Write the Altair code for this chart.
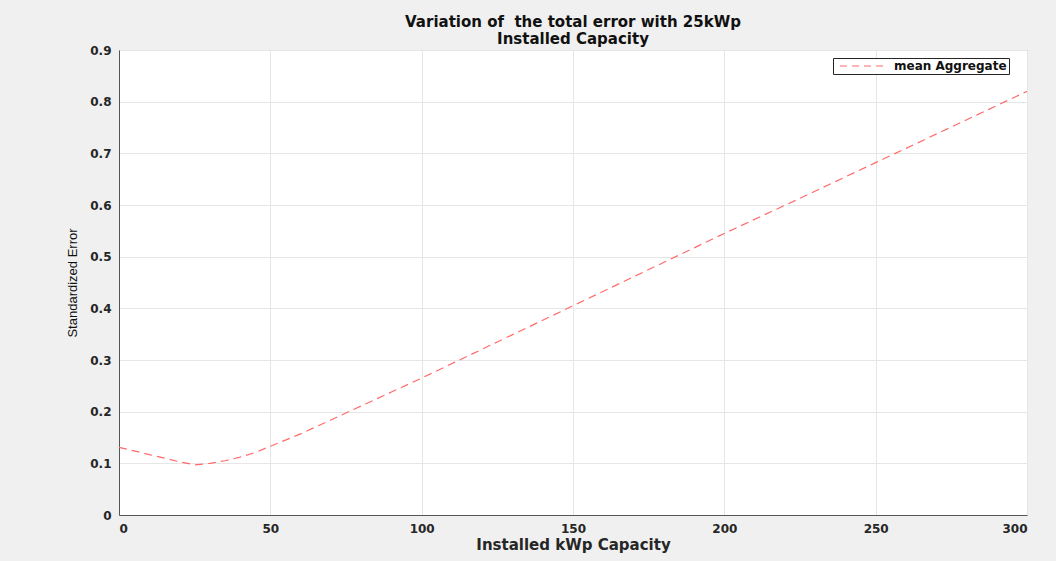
import altair as alt
import pandas as pd

capacity = [0, 5, 10, 15, 20, 25, 30, 35, 40, 45, 50, 60, 70, 80, 90, 100,
            125, 150, 175, 200, 225, 250, 275, 300]
error = [0.131, 0.124, 0.117, 0.110, 0.103, 0.097, 0.100, 0.105, 0.112, 0.121,
         0.133, 0.157, 0.184, 0.211, 0.238, 0.265, 0.335, 0.405, 0.475, 0.545,
         0.613, 0.682, 0.751, 0.820]
series = ["mean Aggregate"] * len(capacity)

df = pd.DataFrame({"cap": capacity, "err": error, "series": series})

line = alt.Chart(df).mark_line(strokeDash=[8, 5], strokeWidth=1.2).encode(
    x=alt.X("cap:Q", title="Installed kWp Capacity",
            scale=alt.Scale(domain=[0, 300], nice=False),
            axis=alt.Axis(values=[0, 50, 100, 150, 200, 250, 300], format="d")),
    y=alt.Y("err:Q", title="Standardized Error",
            scale=alt.Scale(domain=[0, 0.9], nice=False),
            axis=alt.Axis(values=[0, 0.1, 0.2, 0.3, 0.4, 0.5, 0.6, 0.7, 0.8, 0.9],
                          labelExpr="datum.value == 0 ? '0' : format(datum.value, '.1f')",
                          titleFont="Liberation Sans", titleFontWeight="normal",
                          titleFontSize=13, titlePadding=10, titleColor="#111")),
    color=alt.Color("series:N", scale=alt.Scale(range=["#ff6b6b"]),
                    legend=alt.Legend(title=None, orient="none", legendX=714, legendY=8,
                                      symbolType="M-6,0H6", symbolSize=64,
                                      symbolOffset=23, labelOffset=24,
                                      symbolStrokeWidth=1.2, symbolDash=[7, 5],
                                      padding=2,
                                      strokeColor="#262626", fillColor="white",
                                      labelFont="DejaVu Sans", labelFontWeight="bold",
                                      labelFontSize=12, labelColor="#111")),
)

chart = line.properties(
    width=908, height=465,
    title=alt.TitleParams(["Variation of \u00a0the total error with 25kWp", "Installed Capacity"],
                          font="DejaVu Sans", fontSize=15, fontWeight="bold",
                          color="#111", lineHeight=17, offset=-3, anchor="middle"),
    autosize=alt.AutoSizeParams(type="none"),
    padding={"left": 119, "top": 50, "right": 29, "bottom": 46},
).configure(background="#f0f0f0").configure_view(
    fill="white", stroke="#555", strokeWidth=1
).configure_axis(
    labelFont="DejaVu Sans", labelFontWeight="bold", labelFontSize=12, labelColor="#262626",
    titleFont="DejaVu Sans", titleFontWeight="bold", titleFontSize=15, titleColor="#262626",
    gridColor="#e6e6e6", domainColor="#555", ticks=False, labelPadding=8,
).configure_axisX(titlePadding=3)

chart.save("out.html", embed_options={"renderer": "svg", "actions": False})
